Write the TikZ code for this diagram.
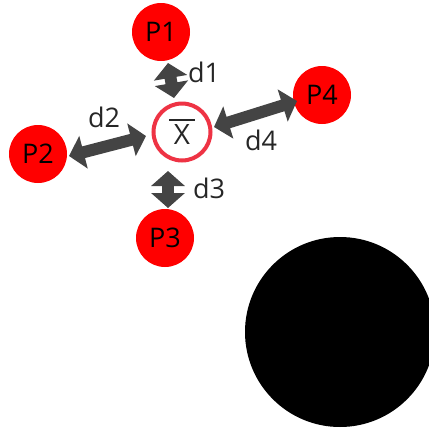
\documentclass[tikz,border=0pt]{standalone}
\usepackage{fontspec}
\setmainfont{Open Sans}
\usetikzlibrary{arrows.meta}
\definecolor{pointred}{HTML}{FF0000}
\definecolor{ringred}{HTML}{EE3344}
\definecolor{arrowgray}{HTML}{444444}
\tikzset{
  point/.style={circle, fill=pointred, minimum size=58pt, inner sep=0pt, font=\fontsize{27}{29}\selectfont},
  mean/.style={circle, draw=ringred, line width=4pt, fill=white, minimum size=57pt, inner sep=0pt},
  dist/.style={arrowgray, line width=12pt, {Triangle[width=33pt,length=15pt]}-{Triangle[width=33pt,length=15pt]}},
  dlabel/.style={font=\fontsize{27}{29}\selectfont, text=black!85}
}
\begin{document}
\begin{tikzpicture}[x=1pt,y=-1pt]
  \useasboundingbox (0,0) rectangle (429,432);
  % mean: ring with an overlined X
  \node[mean]  (X)  at (182,132) {};
  \node[font=\fontsize{28}{30}\selectfont, text=black!85, inner sep=0pt] (Xt) at (182,135) {X};
  \coordinate (ol) at (169,120); \coordinate (or) at (195,120);
  \draw[black!85, line width=2pt] (ol) -- (or);
  % surrounding points
  \node[point] (P1) at (161,32)  {P1};
  \node[point] (P2) at (38,154)  {P2};
  \node[point] (P3) at (165,238) {P3};
  \node[point] (P4) at (322,95)  {P4};
  % large black disc
  \fill[black] (340,332) circle (95);
  % distance arrows
  \coordinate (a1) at (168,63);  \coordinate (b1) at (174,98);
  \coordinate (a2) at (69,156);  \coordinate (b2) at (146,136);
  \coordinate (a3) at (168,171); \coordinate (b3) at (168,208);
  \coordinate (a4) at (214,127); \coordinate (b4) at (297,101);
  \draw[dist] (a1) -- (b1);
  \draw[dist] (a2) -- (b2);
  \draw[dist] (a3) -- (b3);
  \draw[dist] (a4) -- (b4);
  % labels
  \node[dlabel] (l1) at (204,72)  {d1};
  \node[dlabel] (l2) at (104,117) {d2};
  \node[dlabel] (l3) at (209,188) {d3};
  \node[dlabel] (l4) at (261,140) {d4};
\end{tikzpicture}
\end{document}
